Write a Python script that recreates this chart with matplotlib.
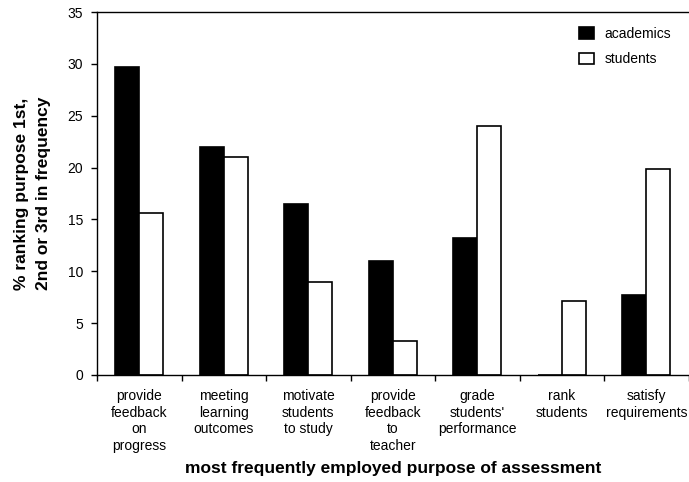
import numpy as np
import matplotlib
matplotlib.use('Agg')
from matplotlib import pyplot as plt
from matplotlib.ticker import FixedLocator, NullFormatter

plt.rcParams['font.family'] = ['Liberation Sans', 'DejaVu Sans']

categories = ['provide\nfeedback\non\nprogress', 'meeting\nlearning\noutcomes',
              'motivate\nstudents\nto study', 'provide\nfeedback\nto\nteacher',
              'grade\nstudents\'\nperformance', 'rank\nstudents', 'satisfy\nrequirements']
academics = [29.7, 22.0, 16.5, 11.0, 13.2, 0.0, 7.7]
students = [15.6, 21.0, 9.0, 3.3, 24.0, 7.1, 19.9]

fig = plt.figure(figsize=(6.89, 4.82), dpi=100)
ax = fig.add_axes([0.1408, 0.222, 0.8585, 0.753])

x = np.arange(len(categories))
w = 0.285
ax.bar(x - w / 2, academics, w, color='black', edgecolor='black', linewidth=1.2,
       label='academics')
ax.bar(x + w / 2, students, w, color='white', edgecolor='black', linewidth=1.2,
       label='students')

ax.set_xlim(-0.5, len(categories) - 0.5)
ax.set_ylim(0, 35)
ax.set_yticks(np.arange(0, 36, 5))
ax.set_xticks(x)
ax.set_xticklabels(categories, fontsize=10, linespacing=1.25)
ax.xaxis.set_minor_locator(FixedLocator(np.arange(-0.5, len(categories), 1)))
ax.xaxis.set_minor_formatter(NullFormatter())
ax.tick_params(axis='x', which='major', length=0, pad=10)
ax.tick_params(axis='x', which='minor', length=4, direction='out', width=1)
ax.tick_params(axis='y', length=4, direction='out', width=1, labelsize=10, pad=6)

for s in ['left', 'bottom', 'top']:
    ax.spines[s].set_linewidth(1)
ax.spines['right'].set_visible(False)

ax.set_ylabel('% ranking purpose 1st,\n2nd or 3rd in frequency', fontsize=12.5,
              fontweight='bold', labelpad=12, linespacing=1.55)
ax.set_xlabel('most frequently employed purpose of assessment', fontsize=12.5,
              fontweight='bold', labelpad=6)

ax.legend(loc='upper left', bbox_to_anchor=(579 / 689, 1 - 27 / 482),
          bbox_transform=fig.transFigure, frameon=False, borderpad=0,
          borderaxespad=0, fontsize=10, handlelength=1.1, handleheight=0.9,
          handletextpad=0.75, labelspacing=0.8)

fig.savefig('out.png', dpi=100)
